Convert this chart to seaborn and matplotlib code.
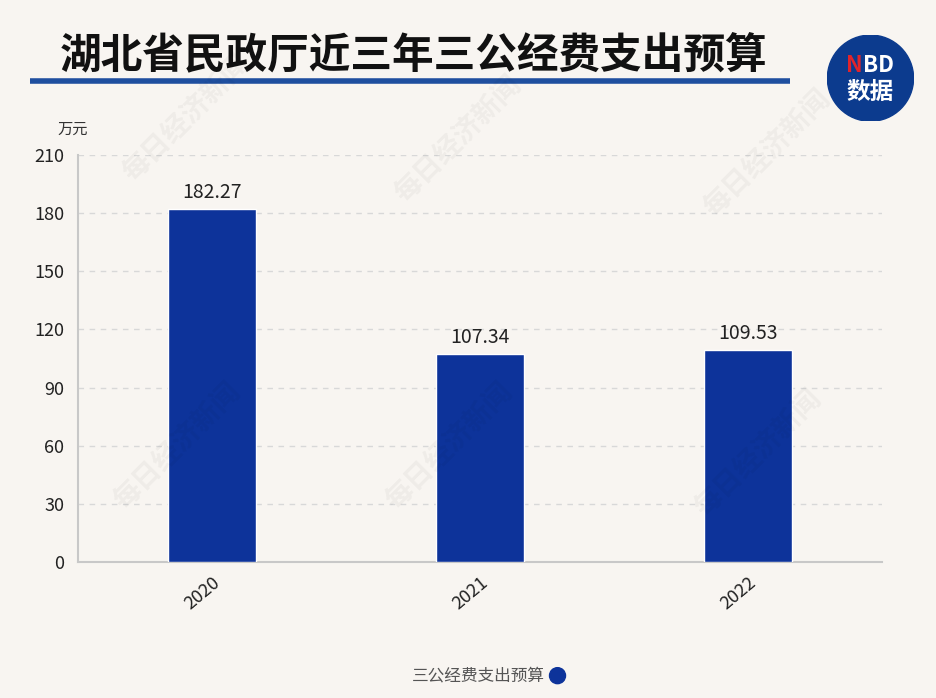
import pandas as pd
import seaborn as sns
import matplotlib.pyplot as plt
from matplotlib.patches import Circle

# Datos
years = ['2020', '2021', '2022']
budget = [182.27, 107.34, 109.53]
y_ticks = [0, 30, 60, 90, 120, 150, 180, 210]

title = '湖北省民政厅近三年三公经费支出预算'
unit = '万元'
series_name = '三公经费支出预算'
watermark = '每日经济新闻'

bg = '#f8f5f1'
bar_color = '#0d339a'

sns.set_style('white')
plt.rcParams['font.family'] = ['Noto Sans CJK SC', 'DejaVu Sans']

df = pd.DataFrame({'year': years, 'value': budget})

fig = plt.figure(figsize=(9.37, 6.98), dpi=100, facecolor=bg)
ax = fig.add_axes([0.0832, 0.1948, 0.858, 0.583])
ax.set_facecolor(bg)

sns.barplot(data=df, x='year', y='value', color=bar_color, width=0.33,
            saturation=1, ax=ax, zorder=3)

ax.set_xlim(-0.5, 2.5)
ax.set_ylim(0, 210)
ax.set_yticks(y_ticks)
ax.yaxis.grid(True, linestyle=(0, (4, 4)), color='#d8d8d8', linewidth=1)
ax.set_axisbelow(True)
ax.set_xlabel('')
ax.set_ylabel('')
for s in ['top', 'right']:
    ax.spines[s].set_visible(False)
for s in ['left', 'bottom']:
    ax.spines[s].set_color('#c8c8c8')
    ax.spines[s].set_linewidth(1.5)
ax.tick_params(axis='y', length=0, labelsize=13, colors='#222222', pad=10)
ax.tick_params(axis='x', length=0, labelsize=13, colors='#222222', pad=8)
plt.setp(ax.get_xticklabels(), rotation=40, ha='right', rotation_mode='anchor')

for i, v in enumerate(budget):
    ax.text(i, v + 3, f'{v:.2f}', ha='center', va='bottom', fontsize=14,
            color='#222222', zorder=4)

# Unidad
fig.text(0.078, 0.815, unit, ha='center', va='center', fontsize=11, color='#333333')

# Título y línea
fig.text(0.064, 0.921, title, ha='left', va='center', fontsize=30,
         fontweight='heavy', color='#111111')
fig.add_artist(plt.Line2D([0.032, 0.843], [0.884, 0.884], color='#1f4f9f',
                          linewidth=4, solid_capstyle='butt',
                          transform=fig.transFigure))

# Logo
logo = fig.add_axes([0.883, 0.826, 0.092, 0.124])
logo.set_xlim(-1, 1)
logo.set_ylim(-1, 1)
logo.set_aspect('equal')
logo.axis('off')
logo.add_patch(Circle((0, 0), 1, color='#0c3b8e'))
logo.text(-0.38, 0.3, 'N', color='#e0242b', fontsize=16, fontweight='heavy',
          ha='center', va='center')
logo.text(0.18, 0.3, 'BD', color='white', fontsize=16, fontweight='heavy',
          ha='center', va='center')
logo.text(0, -0.32, '数据', color='white', fontsize=17, fontweight='heavy',
          ha='center', va='center')

# Marcas de agua
for (x, y) in [(0.2, 0.83), (0.49, 0.8), (0.82, 0.78),
               (0.19, 0.36), (0.48, 0.36), (0.81, 0.35)]:
    fig.text(x, y, watermark, rotation=45, fontsize=20, color='#000000', alpha=0.04,
             ha='center', va='center', fontweight='bold')

# Leyenda
fig.text(0.582, 0.032, series_name, ha='right', va='center', fontsize=12, color='#555555')
fig.add_artist(Circle((0.595 * 9.37, 0.032 * 6.98), 0.08,
                      transform=fig.dpi_scale_trans, color=bar_color))

fig.savefig('out.png', dpi=100, facecolor=bg)
